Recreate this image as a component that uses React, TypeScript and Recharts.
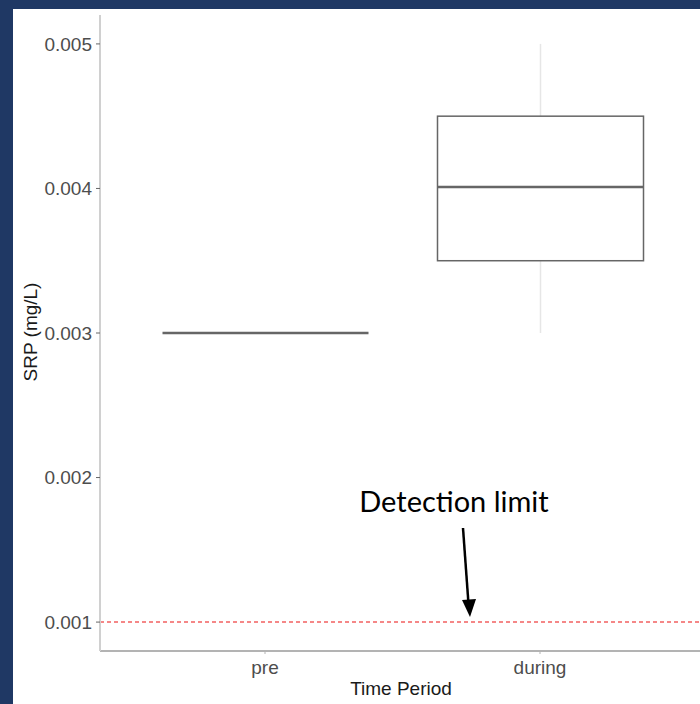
import React from "react"
import { ComposedChart, Bar, XAxis, YAxis, ReferenceLine } from "recharts"

// box stats per period (the plot keeps running past the right edge of the picture)
const periods = ["pre", "during"]
const whiskerLow = [0.003, 0.003]
const q1 = [0.003, 0.0035]
const median = [0.003, 0.00401]
const q3 = [0.003, 0.0045]
const whiskerHigh = [0.003, 0.005]

const yTicks = [0.001, 0.002, 0.003, 0.004, 0.005]
const detectionLimit = 0.001

const data = periods.map((p, i) => ({
  period: p,
  lo: whiskerLow[i],
  q1: q1[i],
  median: median[i],
  q3: q3[i],
  hi: whiskerHigh[i],
  range: [whiskerLow[i], whiskerHigh[i]],
}))

const BoxShape = (props: any) => {
  const { x, y, width, height, payload } = props
  if (!payload || payload.lo == null) return null
  const top = Math.min(y, y + height)
  const bottom = Math.max(y, y + height)
  const span = payload.hi - payload.lo
  const py = (v: number) => (span === 0 ? top : bottom - ((v - payload.lo) / span) * (bottom - top))
  const cx = x + width / 2
  const yq1 = py(payload.q1)
  const yq3 = py(payload.q3)
  const ymed = py(payload.median)
  return (
    <g>
      <line x1={cx} x2={cx} y1={py(payload.hi)} y2={yq3} stroke="#e6e6e6" strokeWidth={1.5} />
      <line x1={cx} x2={cx} y1={yq1} y2={py(payload.lo)} stroke="#e6e6e6" strokeWidth={1.5} />
      <rect x={x} y={yq3} width={width} height={Math.max(0, yq1 - yq3)} fill="#fff" stroke="#666" strokeWidth={1.5} />
      <line x1={x} x2={x + width} y1={ymed} y2={ymed} stroke="#666" strokeWidth={2.5} />
    </g>
  )
}

export default function App() {
  return (
    <div
      style={{
        position: "fixed",
        left: 0,
        top: 0,
        width: 700,
        height: 704,
        overflow: "hidden",
        background: "#1f3864",
        fontFamily: "'Liberation Sans', Arial, sans-serif",
      }}
    >
      <div style={{ position: "absolute", left: 13, top: 9, width: 720, height: 720, background: "#fff" }} />
      <div style={{ position: "absolute", left: 0, top: 0 }}>
        <ComposedChart
          width={1000}
          height={704}
          data={data}
          margin={{ top: 15, right: 20, bottom: 23, left: 40 }}
        >
          <XAxis
            dataKey="period"
            type="category"
            padding={{ left: 27.5, right: 302.5 }}
            height={30}
            axisLine={{ stroke: "#b3b3b3", strokeWidth: 2 }}
            tickLine={{ stroke: "#b3b3b3" }}
            tickSize={3}
            tickMargin={7}
            tick={{ fill: "#4d4d4d", fontSize: 19 }}
          />
          <XAxis
            xAxisId="top"
            orientation="top"
            dataKey="period"
            height={0}
            tick={false}
            tickLine={false}
            axisLine={{ stroke: "#d9d9d9", strokeWidth: 2 }}
          />
          <YAxis
            type="number"
            domain={[0.0008, 0.0052]}
            allowDataOverflow
            ticks={yTicks}
            width={60}
            axisLine={{ stroke: "#d0d0d0", strokeWidth: 2 }}
            tickLine={{ stroke: "#666" }}
            tickSize={4}
            tickMargin={4}
            tick={{ fill: "#4d4d4d", fontSize: 19 }}
          />
          <ReferenceLine y={detectionLimit} stroke="#f26060" strokeWidth={1.5} strokeDasharray="4 3" />
          <Bar dataKey="range" barSize={206} shape={BoxShape} isAnimationActive={false} />
        </ComposedChart>
      </div>
      <div
        style={{
          position: "absolute",
          left: 31,
          top: 332,
          transform: "translate(-50%, -50%) rotate(-90deg)",
          fontSize: 19,
          color: "#1a1a1a",
          whiteSpace: "nowrap",
        }}
      >
        SRP (mg/L)
      </div>
      <div
        style={{
          position: "absolute",
          left: 401,
          top: 689,
          transform: "translate(-50%, -50%)",
          fontSize: 19,
          color: "#1a1a1a",
          whiteSpace: "nowrap",
        }}
      >
        Time Period
      </div>
      <div
        style={{
          position: "absolute",
          left: 454,
          top: 486,
          transform: "translateX(-50%)",
          fontSize: 29,
          lineHeight: "29px",
          fontFamily: "Lato, sans-serif",
          color: "#000",
          whiteSpace: "nowrap",
        }}
      >
        Detection limit
      </div>
      <svg style={{ position: "absolute", left: 0, top: 0 }} width={700} height={704}>
        <line x1={463} y1={528} x2={468.5} y2={604} stroke="#000" strokeWidth={2.5} />
        <polygon points="462,600 476,599 470,617" fill="#000" />
      </svg>
    </div>
  )
}
